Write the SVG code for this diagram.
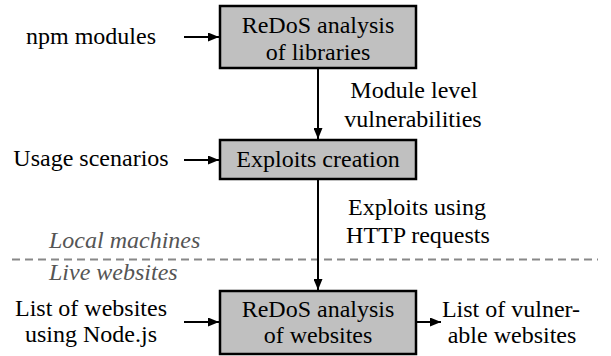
<svg xmlns="http://www.w3.org/2000/svg" width="611" height="356" viewBox="0 0 611 356">
<style>
text{font-family:"Liberation Serif",serif;font-size:24px;fill:#000}
.c{text-anchor:middle}
.it{font-style:italic;fill:#555}
.box{fill:#c0c0c0;stroke:#000;stroke-width:2.5}
.ar{stroke:#000;stroke-width:2;fill:none;marker-end:url(#ah)}
</style>
<defs>
<marker id="ah" viewBox="0 0 11 9" refX="11" refY="4.5" markerWidth="11" markerHeight="9" markerUnits="userSpaceOnUse" orient="auto">
<path d="M0,0 L11,4.5 L0,9 Z" fill="#000"/>
</marker>
</defs>
<line x1="12" y1="259.5" x2="598" y2="259.5" stroke="#888" stroke-width="2" stroke-dasharray="8,5"/>
<text class="it" x="49" y="248">Local machines</text>
<text class="it" x="49" y="280">Live websites</text>
<g id="connectors">
<line class="ar" x1="184" y1="37" x2="219" y2="37"/>
<line class="ar" x1="184" y1="160" x2="219" y2="160"/>
<line class="ar" x1="184" y1="322" x2="219" y2="322"/>
<line class="ar" x1="318" y1="68" x2="318" y2="139"/>
<line class="ar" x1="318" y1="179" x2="318" y2="290"/>
<line class="ar" x1="417" y1="322" x2="441" y2="322"/>
</g>
<g id="in-npm"><text class="c" x="91" y="44">npm modules</text></g>
<g id="in-usage"><text class="c" x="91" y="166">Usage scenarios</text></g>
<g id="in-list"><text class="c" x="91" y="316">List of websites</text><text class="c" x="91" y="342">using Node.js</text></g>
<g id="lbl-module"><text class="c" x="414" y="98">Module level</text><text class="c" x="413" y="127">vulnerabilities</text></g>
<g id="lbl-exploits"><text class="c" x="417" y="215">Exploits using</text><text class="c" x="418" y="243">HTTP requests</text></g>
<g id="out-list"><text class="c" x="511" y="317">List of vulner-</text><text class="c" x="512" y="343">able websites</text></g>
<g id="box-libs"><rect class="box" x="220" y="6" width="196" height="62"/><text class="c" x="318" y="33">ReDoS analysis</text><text class="c" x="318" y="60">of libraries</text></g>
<g id="box-exploits"><rect class="box" x="220" y="140" width="196" height="39"/><text class="c" x="318" y="167">Exploits creation</text></g>
<g id="box-sites"><rect class="box" x="220" y="291" width="196" height="63"/><text class="c" x="318" y="317">ReDoS analysis</text><text class="c" x="318" y="343">of websites</text></g>
</svg>
